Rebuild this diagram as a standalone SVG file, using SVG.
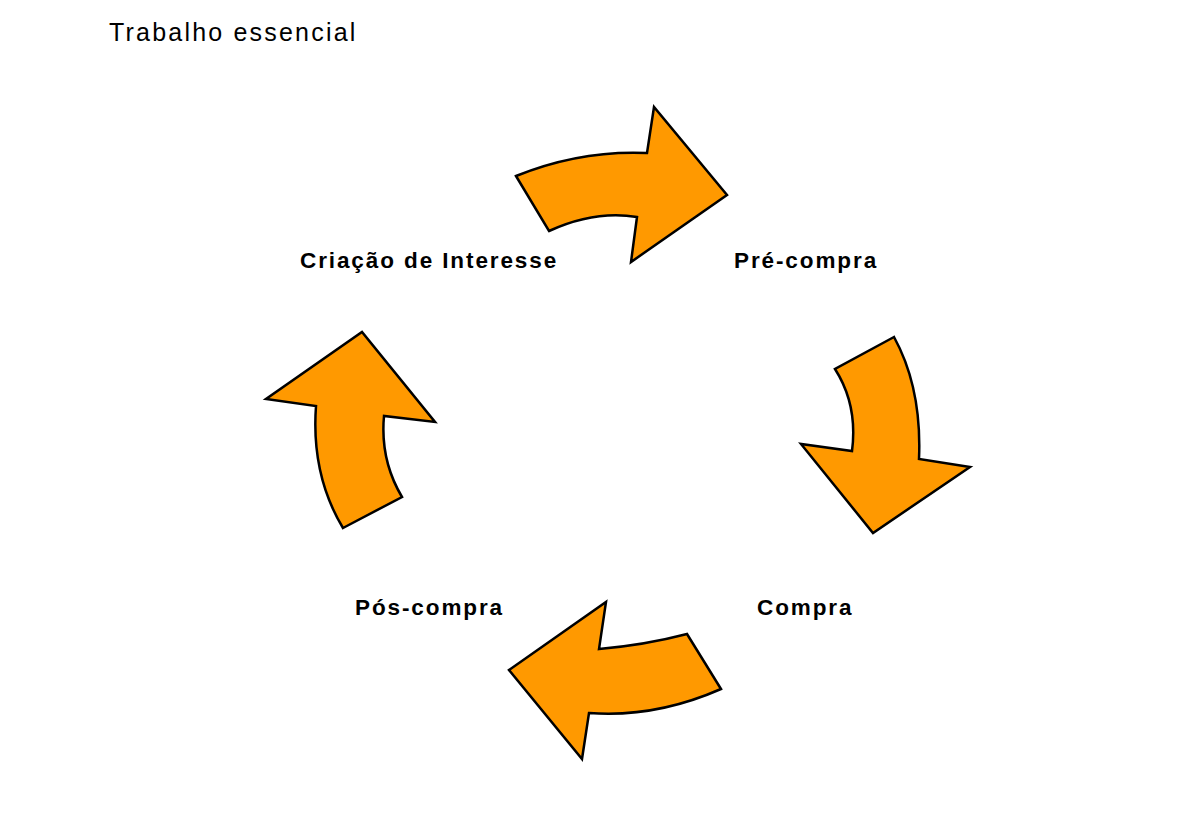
<svg xmlns="http://www.w3.org/2000/svg" width="1198" height="834" viewBox="0 0 1198 834">
<style>
.arrow{fill:#FF9900;stroke:#000;stroke-width:2.5;stroke-linejoin:miter}
.lbl{font-family:"Liberation Sans",Arial,sans-serif;font-weight:bold;font-size:22.5px;letter-spacing:1.9px;fill:#000}
.title{font-family:"Liberation Sans",Arial,sans-serif;font-size:25px;letter-spacing:2.2px;fill:#000}
</style>
<rect width="1198" height="834" fill="#fff"/>
<text class="title" x="109" y="41">Trabalho essencial</text>
<g id="connectors">
<path id="arrow-top" class="arrow" d="M516,176 L549,231 Q595,210 637,217 L631,262 L727,195 L654,107 L647,153 Q580,150 516,176 Z"/>
<path id="arrow-right" class="arrow" d="M894,337 L835,369 Q858,405 852,451 L801,444 L873,533 L970,467 L919,459 Q922,388 894,337 Z"/>
<path id="arrow-bottom" class="arrow" d="M687,634 L721,689 Q655,718 589,713 L582,759 L509,670 L606,602 L599,649 Q645,645 687,634 Z"/>
<path id="arrow-left" class="arrow" d="M343,528 L402,497 Q380,460 384,416 L435,422 L362,332 L266,399 L316,406 Q311,475 343,528 Z"/>
</g>
<g id="node-criacao"><text class="lbl" x="300" y="268">Criação de Interesse</text></g>
<g id="node-precompra"><text class="lbl" x="734" y="268">Pré-compra</text></g>
<g id="node-compra"><text class="lbl" x="757" y="615">Compra</text></g>
<g id="node-poscompra"><text class="lbl" x="355" y="615">Pós-compra</text></g>
</svg>
